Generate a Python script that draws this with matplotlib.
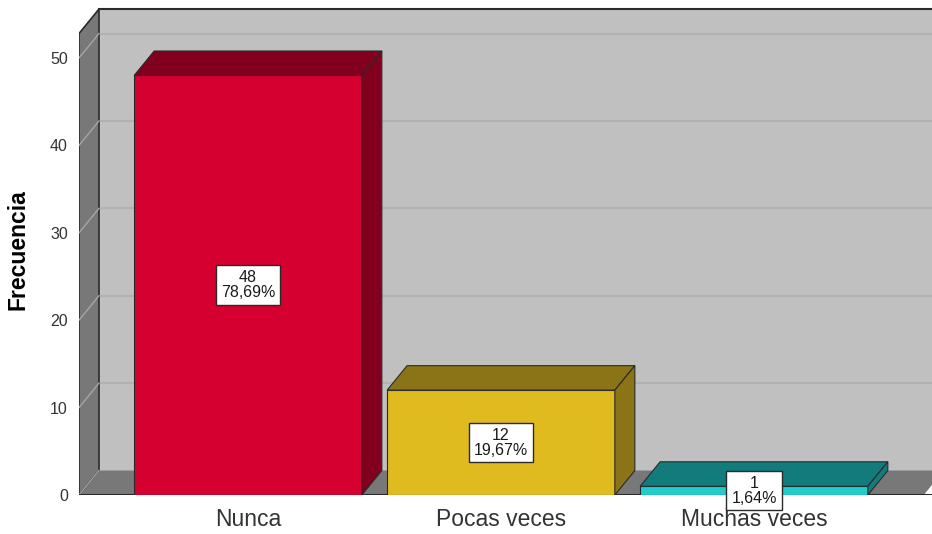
import matplotlib.pyplot as plt
from matplotlib.patches import Polygon

plt.rcParams['font.family'] = ['Liberation Sans', 'DejaVu Sans']

categories = ['Nunca', 'Pocas veces', 'Muchas veces']
counts = [48, 12, 1]
yticks = [0, 10, 20, 30, 40, 50]

front_colors = ['#d50030', '#e0bb20', '#20cccc']
shade_colors = ['#82001e', '#8a7417', '#127c7c']

total = sum(counts)
labels = ['%d\n%s%%' % (c, ('%.2f' % (100.0 * c / total)).replace('.', ','))
          for c in counts]

# 3d look: depth offset of the box (data units) and wall sizes
dx = 0.079
dy = 2.8
x0 = -0.668
x1 = 2.75
wall_top = 52.8
width = 0.9

fig = plt.figure(figsize=(9.32, 5.34), dpi=100)
ax = fig.add_axes([79 / 932, 39 / 534, 1 - 79 / 932, 490 / 534])
ax.set_xlim(x0, x0 + (932 - 79) / 253.0)
ax.set_ylim(0, 490 / 8.74)

edge = '#2a2a2a'

# back wall
ax.add_patch(Polygon([(x0 + dx, dy), (x0 + dx, wall_top + dy), (x1, wall_top + dy), (x1, dy)],
                     closed=True, facecolor='#c0c0c0', edgecolor='none', zorder=1))
ax.plot([x0 + dx, x1], [wall_top + dy, wall_top + dy], color=edge, lw=1.5, zorder=3)
# floor
ax.add_patch(Polygon([(x0, 0), (x0 + dx, dy), (x1, dy), (x1 - dx, 0)],
                     closed=True, facecolor='#787878', edgecolor='none', zorder=1))
# left wall
ax.add_patch(Polygon([(x0, 0), (x0, wall_top), (x0 + dx, wall_top + dy), (x0 + dx, dy)],
                     closed=True, facecolor='#787878', edgecolor=edge, lw=1.2, zorder=2))
ax.plot([x0, x1], [0, 0], color=edge, lw=1.5, zorder=3)

# grid lines on the walls
for v in yticks:
    if v > 0:
        ax.plot([x0 + dx, x1], [v + dy, v + dy], color='#b2b2b2', lw=1.5, zorder=1.5)
    ax.plot([x0, x0 + dx], [v, v + dy], color='#a6a6a6', lw=1.0, zorder=2.5)

# 3d bars
for i, (c, fc, sc) in enumerate(zip(counts, front_colors, shade_colors)):
    l, r = i - width / 2, i + width / 2
    ax.add_patch(Polygon([(l, 0), (l, c), (r, c), (r, 0)], closed=True,
                         facecolor=fc, edgecolor=edge, lw=0.8, zorder=5))
    ax.add_patch(Polygon([(l, c), (l + dx, c + dy), (r + dx, c + dy), (r, c)], closed=True,
                         facecolor=sc, edgecolor=edge, lw=0.8, zorder=5))
    ax.add_patch(Polygon([(r, 0), (r, c), (r + dx, c + dy), (r + dx, dy)], closed=True,
                         facecolor=sc, edgecolor=edge, lw=0.8, zorder=5))
    ax.text(i, c / 2.0, labels[i], ha='center', va='center', multialignment='center',
            fontsize=11.5, color='#1a1a1a', linespacing=1.0, zorder=6,
            bbox=dict(boxstyle='square,pad=0.3', facecolor='white', edgecolor=edge, lw=1.0))

for s in ax.spines.values():
    s.set_visible(False)

ax.set_xticks(range(len(categories)))
ax.set_xticklabels(categories, fontsize=16.5, color='#333333')
ax.set_yticks(yticks)
ax.set_yticklabels([str(v) for v in yticks], fontsize=11.5, color='#333333')
ax.tick_params(axis='both', length=0)
ax.tick_params(axis='x', pad=9)
ax.tick_params(axis='y', pad=8)
ax.set_ylabel('Frecuencia', fontsize=16.5, fontweight='bold', labelpad=15)

plt.savefig('out.png', dpi=100)
